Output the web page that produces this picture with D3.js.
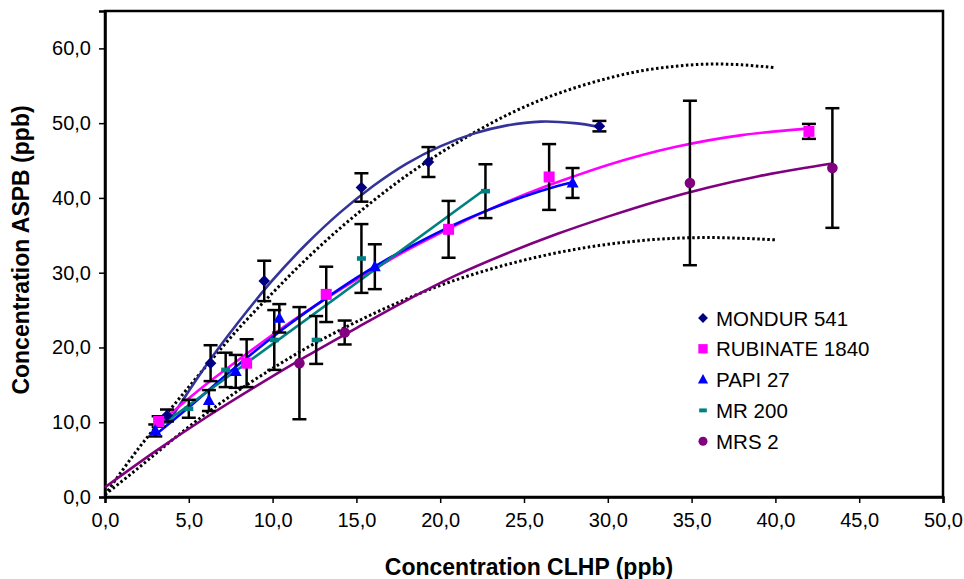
<!DOCTYPE html>
<html>
<head>
<meta charset="utf-8">
<script src="https://cdn.jsdelivr.net/npm/d3@7"></script>
<style>
  body { margin: 0; background: #fff; }
  svg { display: block; font-family: Arial, "Liberation Sans", sans-serif; }
</style>
</head>
<body>
<svg id="chart" width="964" height="579"></svg>
<script>
// axis ticks
var xTicks = [0, 5, 10, 15, 20, 25, 30, 35, 40, 45, 50];
var yTicks = [0, 10, 20, 30, 40, 50, 60];

// measured points (x = CLHP, y = ASPB, err = +/-)
var mondurX   = [3.7, 6.3, 9.5, 15.3, 19.3, 29.5];
var mondurY   = [10.9, 17.9, 28.9, 41.4, 44.8, 49.6];
var mondurErr = [0.8, 2.4, 2.7, 1.9, 2.0, 0.7];

var rubinateX   = [3.2, 8.45, 13.2, 20.5, 26.5, 42.0];
var rubinateY   = [10.1, 17.9, 27.1, 35.8, 42.8, 48.9];
var rubinateErr = [0.7, 3.2, 3.7, 3.8, 4.4, 1.0];

var papiX   = [3.0, 6.2, 7.8, 10.4, 16.1, 27.9];
var papiY   = [8.9, 12.9, 16.8, 23.9, 30.8, 42.0];
var papiErr = [0.8, 1.4, 2.2, 1.9, 3.0, 2.0];

var mr200X   = [5.0, 7.2, 10.1, 12.6, 15.3, 22.7];
var mr200Y   = [11.8, 17.0, 21.0, 21.0, 31.9, 40.9];
var mr200Err = [1.2, 2.3, 4.0, 3.2, 4.6, 3.6];

var mrsX   = [11.6, 14.3, 34.9, 43.4];
var mrsY   = [17.9, 22.0, 42.0, 44.0];
var mrsErr = [7.5, 1.6, 11.0, 8.0];

// trend curves
var mondurFitX = [3.7, 6, 8, 10, 12, 14, 16, 18, 20, 22, 24, 26, 28, 29.5];
var mondurFitY = [9.7, 17.5, 23.5, 29.0, 33.8, 38.0, 41.6, 44.6, 46.9, 48.6, 49.7, 50.2, 50.0, 49.5];

var rubinateFitX = [3.2, 6, 8, 10, 12, 14, 16, 18, 20, 22, 24, 26, 28, 30, 32, 34, 36, 38, 40, 42];
var rubinateFitY = [9.8, 15.0, 18.4, 21.7, 24.8, 27.7, 30.4, 33.0, 35.3, 37.5, 39.5, 41.3, 42.9, 44.4, 45.7, 46.8, 47.7, 48.4, 48.9, 49.3];

var papiFitX = [3.0, 5, 7, 9, 11, 13, 15, 17, 19, 21, 23, 25, 27, 27.9];
var papiFitY = [8.3, 12.0, 15.9, 19.6, 23.1, 26.3, 29.3, 32.0, 34.4, 36.6, 38.5, 40.2, 41.6, 42.1];

var mr200FitX = [3.3, 22.7];
var mr200FitY = [9.5, 41.2];

var mrsFitX = [0, 3, 6, 9, 12, 15, 18, 21, 24, 27, 30, 33, 36, 39, 42, 43.4];
var mrsFitY = [1.3, 6.1, 10.6, 14.8, 18.8, 22.6, 26.3, 29.7, 32.6, 35.2, 37.5, 39.6, 41.4, 42.9, 44.1, 44.6];

// dotted envelope curves
var upperX = [0, 2, 4, 6, 8, 10, 12, 14, 16, 18, 20, 22, 24, 26, 28, 30, 32, 34, 36, 38, 40];
var upperY = [0.3, 6.5, 12.0, 17.4, 22.6, 27.3, 31.8, 35.9, 39.6, 43.0, 46.0, 48.7, 51.1, 53.1, 54.7, 56.0, 57.0, 57.6, 57.9, 57.8, 57.4];
var lowerX = [0, 2, 4, 6, 8, 10, 12, 14, 16, 18, 20, 22, 24, 26, 28, 30, 32, 34, 36, 38, 40];
var lowerY = [0.3, 3.9, 7.6, 11.1, 14.3, 17.2, 19.9, 22.3, 24.5, 26.5, 28.3, 29.8, 31.1, 32.2, 33.1, 33.8, 34.3, 34.6, 34.7, 34.6, 34.4];

var series = [
  { name: "MONDUR 541", x: mondurX, y: mondurY, err: mondurErr, fx: mondurFitX, fy: mondurFitY,
    color: "#000080", lineColor: "#333399", symbol: "diamond" },
  { name: "RUBINATE 1840", x: rubinateX, y: rubinateY, err: rubinateErr, fx: rubinateFitX, fy: rubinateFitY,
    color: "#ff00ff", lineColor: "#ff00ff", symbol: "square" },
  { name: "PAPI 27", x: papiX, y: papiY, err: papiErr, fx: papiFitX, fy: papiFitY,
    color: "#0000ff", lineColor: "#0000ff", symbol: "triangle" },
  { name: "MR 200", x: mr200X, y: mr200Y, err: mr200Err, fx: mr200FitX, fy: mr200FitY,
    color: "#008080", lineColor: "#008080", symbol: "dash" },
  { name: "MRS 2", x: mrsX, y: mrsY, err: mrsErr, fx: mrsFitX, fy: mrsFitY,
    color: "#800080", lineColor: "#800080", symbol: "circle" }
];

var svg = d3.select("#chart");
var margin = { left: 105, right: 21, top: 11, bottom: 82 };
var W = 964, H = 579;

var x = d3.scaleLinear().domain([0, 50]).range([margin.left, W - margin.right]);
var y = d3.scaleLinear().domain([0, 65]).range([H - margin.bottom, margin.top]);

var fmt = function(v) { return d3.format(".1f")(v).replace(".", ","); };

// frame
svg.append("rect")
  .attr("x", x(0)).attr("y", y(65))
  .attr("width", x(50) - x(0)).attr("height", y(0) - y(65))
  .attr("fill", "none").attr("stroke", "#000").attr("stroke-width", 2.5);

// axes
var xAxis = svg.append("g")
  .attr("transform", "translate(0," + y(0) + ")")
  .call(d3.axisBottom(x).tickValues(xTicks).tickFormat(fmt).tickSize(6).tickPadding(10));
var yAxis = svg.append("g")
  .attr("transform", "translate(" + x(0) + ",0)")
  .call(d3.axisLeft(y).tickValues(yTicks).tickFormat(fmt).tickSize(6).tickPadding(8));
[xAxis, yAxis].forEach(function(a) {
  a.select(".domain").attr("stroke", "#000").attr("stroke-width", 2.5);
  a.selectAll(".tick line").attr("stroke", "#000").attr("stroke-width", 1.5);
  a.selectAll(".tick text").attr("fill", "#000").style("font-size", "20px")
    .style("font-family", "Arial, 'Liberation Sans', sans-serif");
});

// axis titles
svg.append("text")
  .attr("x", (x(0) + x(50)) / 2 + 5).attr("y", 575)
  .attr("text-anchor", "middle")
  .style("font-size", "23px").style("font-weight", "bold")
  .text("Concentration CLHP (ppb)");
svg.append("text")
  .attr("transform", "translate(29," + 250 + ") rotate(-90)")
  .attr("text-anchor", "middle")
  .style("font-size", "23px").style("font-weight", "bold")
  .text("Concentration ASPB (ppb)");

var line = d3.line()
  .x(function(d) { return x(d[0]); })
  .y(function(d) { return y(d[1]); })
  .curve(d3.curveCatmullRom);

function pts(xs, ys) { return xs.map(function(v, i) { return [v, ys[i]]; }); }

// dotted envelopes
[[upperX, upperY], [lowerX, lowerY]].forEach(function(c) {
  svg.append("path")
    .attr("d", line(pts(c[0], c[1])))
    .attr("fill", "none").attr("stroke", "#000")
    .attr("stroke-width", 3).attr("stroke-dasharray", "2.5,2.5");
});

// trend lines
series.forEach(function(s) {
  svg.append("path")
    .attr("d", line(pts(s.fx, s.fy)))
    .attr("fill", "none").attr("stroke", s.lineColor).attr("stroke-width", 2.6);
});

// error bars
series.forEach(function(s) {
  var g = svg.append("g").attr("stroke", "#000").attr("stroke-width", 2.5);
  s.x.forEach(function(v, i) {
    var top = y(s.y[i] + s.err[i]), bot = y(s.y[i] - s.err[i]), cx = x(v);
    g.append("line").attr("x1", cx).attr("x2", cx).attr("y1", top).attr("y2", bot);
    g.append("line").attr("x1", cx - 7).attr("x2", cx + 7).attr("y1", top).attr("y2", top);
    g.append("line").attr("x1", cx - 7).attr("x2", cx + 7).attr("y1", bot).attr("y2", bot);
  });
});

function drawMarker(g, kind, color, scale) {
  var k = scale || 1;
  if (kind === "diamond") {
    var r = 5.8 * k;
    g.append("path").attr("d", "M0," + (-r) + "L" + r + ",0L0," + r + "L" + (-r) + ",0Z").attr("fill", color);
  } else if (kind === "square") {
    g.append("rect").attr("x", -5.5 * k).attr("y", -5.5 * k).attr("width", 11 * k).attr("height", 11 * k).attr("fill", color);
  } else if (kind === "triangle") {
    g.append("path").attr("d", "M0," + (-6.5 * k) + "L" + (6 * k) + "," + (4.5 * k) + "L" + (-6 * k) + "," + (4.5 * k) + "Z").attr("fill", color);
  } else if (kind === "dash") {
    g.append("rect").attr("x", -4.5 * k).attr("y", -2.3 * k).attr("width", 9 * k).attr("height", 4.6 * k).attr("fill", color);
  } else {
    g.append("circle").attr("r", 5.3 * k).attr("fill", color);
  }
}

// markers
series.forEach(function(s) {
  s.x.forEach(function(v, i) {
    var g = svg.append("g").attr("transform", "translate(" + x(v) + "," + y(s.y[i]) + ")");
    drawMarker(g, s.symbol, s.color, 1);
  });
});

// legend
var legend = svg.append("g").attr("transform", "translate(703,318)");
series.forEach(function(s, i) {
  var row = legend.append("g").attr("transform", "translate(0," + (i * 30.8) + ")");
  drawMarker(row.append("g"), s.symbol, s.color, 0.85);
  row.append("text").attr("x", 13).attr("y", 7.5)
    .style("font-size", "20.5px").attr("fill", "#000").text(s.name);
});
</script>
</body>
</html>
